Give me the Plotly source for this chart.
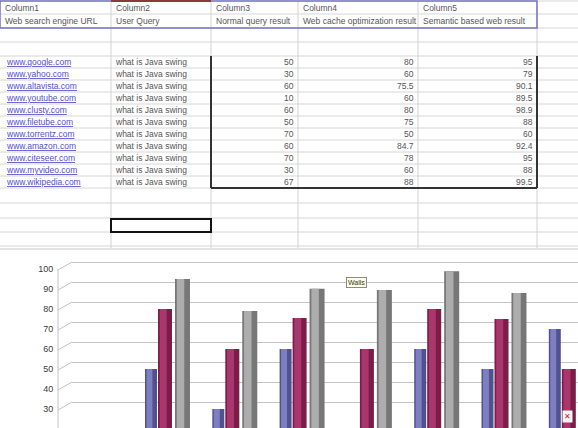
import plotly.graph_objects as go

W, H = 578, 428

# ---------------- data ----------------
col_ids = ["Column1", "Column2", "Column3", "Column4", "Column5"]
col_names = ["Web search engine URL", "User Query", "Normal query result",
             "Web cache optimization result", "Semantic based web result"]
urls = ["www.google.com", "www.yahoo.com", "www.altavista.com", "www.youtube.com",
        "www.clusty.com", "www.filetube.com", "www.torrentz.com", "www.amazon.com",
        "www.citeseer.com", "www.myvideo.com", "www.wikipedia.com"]
queries = ["what is Java swing", "what is Java swing", "what is Java swing",
           "what is Java swing", "what is Java swing", "what is Java swing",
           "what is Java swing", "what is Java swing", "what is Java swing",
           "what is Java swing", "what is Java swing"]
normal = [50, 30, 60, 10, 60, 50, 70, 60, 70, 30, 67]
cache = [80, 60, 75.5, 60, 80, 75, 50, 84.7, 78, 60, 88]
semantic = [95, 79, 90.1, 89.5, 98.9, 88, 60, 92.4, 95, 88, 99.5]
y_ticks = [30, 40, 50, 60, 70, 80, 90, 100]


def px(x):
    return x / W


def py(y):
    return 1 - y / H


FONT = "Liberation Sans"
TXT = "#555555"
FS = 8.5

# ---------------- spreadsheet geometry ----------------
col_edges = [0, 111, 211, 298, 418, 537, 578]
row_edges = [1, 14, 28, 42, 56] + [56 + 12 * (i + 1) for i in range(11)] + [203, 218, 232, 246]
data_top = 56
row_h = 12

shapes = []
annotations = []

# cell gridlines
for x in col_edges[1:-1]:
    shapes.append(dict(type="line", xref="paper", yref="paper", x0=px(x), x1=px(x),
                       y0=py(1), y1=py(248), line=dict(color="#d2d2d2", width=1)))
for y in row_edges:
    shapes.append(dict(type="line", xref="paper", yref="paper", x0=0, x1=1,
                       y0=py(y), y1=py(y), line=dict(color="#d6d6d6", width=1)))
shapes.append(dict(type="line", xref="paper", yref="paper", x0=0, x1=1,
                   y0=py(249), y1=py(249), line=dict(color="#c8c8c8", width=1)))

# header list box (blue)
shapes.append(dict(type="rect", xref="paper", yref="paper", x0=px(0), x1=px(537),
                   y0=py(28), y1=py(1), line=dict(color="#7474c4", width=1.5)))
shapes.append(dict(type="line", xref="paper", yref="paper", x0=px(111), x1=px(211),
                   y0=py(1), y1=py(1), line=dict(color="#8b3a3a", width=2)))
# data range box
bottom = data_top + row_h * len(urls)
for (x0, y0, x1, y1) in [(211, data_top, 211, bottom), (537, data_top, 537, bottom),
                         (211, bottom, 537, bottom)]:
    shapes.append(dict(type="line", xref="paper", yref="paper", x0=px(x0), x1=px(x1),
                       y0=py(y0), y1=py(y1), line=dict(color="#333333", width=2)))
# active cell
shapes.append(dict(type="rect", xref="paper", yref="paper", x0=px(111), x1=px(211),
                   y0=py(232), y1=py(219), line=dict(color="#111111", width=2)))

# header text
for i, (cid, cname) in enumerate(zip(col_ids, col_names)):
    xl = col_edges[i] + 3
    annotations.append(dict(x=px(xl), y=py(8), xref="paper", yref="paper", text=cid,
                            showarrow=False, xanchor="left", yanchor="middle",
                            font=dict(family=FONT, size=FS, color=TXT)))
    annotations.append(dict(x=px(xl), y=py(21), xref="paper", yref="paper", text=cname,
                            showarrow=False, xanchor="left", yanchor="middle",
                            font=dict(family=FONT, size=FS, color=TXT)))


def fmt(v):
    return ("%g" % v)


for r in range(len(urls)):
    yc = data_top + row_h * r + row_h / 2
    annotations.append(dict(x=px(4), y=py(yc), xref="paper", yref="paper",
                            text='<span style="text-decoration:underline">%s</span>' % urls[r],
                            showarrow=False, xanchor="left", yanchor="middle",
                            font=dict(family=FONT, size=FS, color="#5050cc")))
    annotations.append(dict(x=px(113), y=py(yc), xref="paper", yref="paper", text=queries[r],
                            showarrow=False, xanchor="left", yanchor="middle",
                            font=dict(family=FONT, size=FS, color=TXT)))
    for ci, series in zip([3, 4, 5], [normal, cache, semantic]):
        annotations.append(dict(x=px(col_edges[ci] - 2), y=py(yc), xref="paper", yref="paper",
                                text=fmt(series[r]), showarrow=False, xanchor="right",
                                yanchor="middle", font=dict(family=FONT, size=FS, color=TXT)))

# ---------------- chart ----------------
plot_top = 255
dom = [0, (H - plot_top) / H]
# back wall grid axis: value 100 at pixel 262, 2 px per unit
grid_range = [100 - (H - 262) / 2, 100 + (262 - plot_top) / 2]
# front (bars + labels) axis: value 100 at pixel 269
bar_range = [100 - (H - 269) / 2, 100 + (269 - plot_top) / 2]

x_left = 72
front_x = 58
group_px = 67.3
first_center = 167.5
x_range = [-(first_center - x_left) / group_px,
           -(first_center - x_left) / group_px + (W - x_left) / group_px]

fig = go.Figure()

series_specs = [
    (normal, -0.334, 0.178, "#51518c", "#7e7ec2", "Normal query result"),
    (cache, -0.141, 0.208, "#7a1d47", "#aa366e", "Web cache optimization result"),
    (semantic, 0.111, 0.223, "#777777", "#ADADAD", "Semantic based web result"),
]
for vals, off, wd, dark, light, name in series_specs:
    fig.add_trace(go.Bar(x=urls, y=vals, offset=off, width=wd, name=name,
                         marker=dict(color=dark, line=dict(width=0)), yaxis="y2",
                         showlegend=False))
    fig.add_trace(go.Bar(x=urls, y=vals, offset=off + wd * 0.12, width=wd * 0.5,
                         marker=dict(color=light, line=dict(width=0)), yaxis="y2",
                         showlegend=False, hoverinfo="skip"))

# diagonal wall/floor connectors at each tick
for v in y_ticks:
    shapes.append(dict(type="line", xref="paper", yref="y", x0=px(front_x), x1=px(x_left),
                       y0=v - 4, y1=v, line=dict(color="#c4c4c4", width=1)))
shapes.append(dict(type="line", xref="paper", yref="y2", x0=px(front_x), x1=px(front_x),
                   y0=bar_range[0], y1=100, line=dict(color="#c4c4c4", width=1)))

annotations.append(dict(x=px(356), y=py(288), xref="paper", yref="paper", text="Walls",
                        showarrow=False, font=dict(family=FONT, size=7, color="#333"),
                        bgcolor="#ffffe1", bordercolor="#8a8a8a", borderwidth=1, borderpad=1))
annotations.append(dict(x=px(573), y=py(423), xref="paper", yref="paper", text="✕",
                        showarrow=False, font=dict(family=FONT, size=8, color="#d02020"),
                        bgcolor="#f4f4f4"))

fig.update_layout(
    width=W, height=H, margin=dict(l=0, r=0, t=0, b=0),
    paper_bgcolor="white", plot_bgcolor="rgba(0,0,0,0)",
    barmode="overlay",
    xaxis=dict(domain=[px(x_left), 1], type="category", categoryarray=urls,
               range=x_range, showticklabels=False, showgrid=False, zeroline=False,
               showline=False, ticks=""),
    xaxis2=dict(domain=[px(front_x), 1], anchor="y2", showticklabels=False,
                showgrid=False, zeroline=False, showline=False, ticks="", visible=False),
    yaxis=dict(domain=dom, range=grid_range, showgrid=True, gridcolor="#c4c4c4",
               gridwidth=1, tickvals=y_ticks, showticklabels=False, zeroline=False,
               showline=False, ticks=""),
    yaxis2=dict(overlaying="y", anchor="x2", side="left",
                range=bar_range, tickvals=y_ticks, showgrid=False, zeroline=False,
                showline=False, ticks="outside", ticklen=16, tickcolor="rgba(0,0,0,0)",
                tickfont=dict(family=FONT, size=9, color="#3a3a3a")),
    shapes=shapes,
    annotations=annotations,
)

fig.write_html("out.html")
